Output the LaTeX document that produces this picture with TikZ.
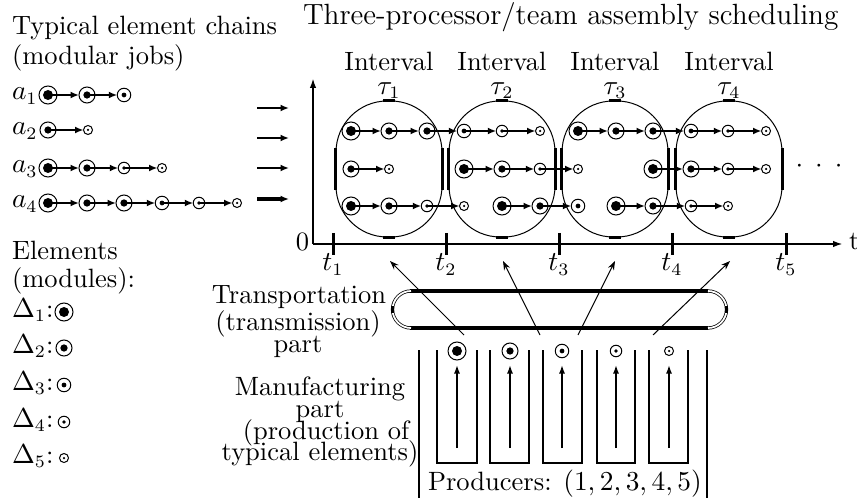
\documentclass[tikz,border=0pt]{standalone}
\usetikzlibrary{arrows.meta}
\begin{document}
\fontsize{10.6pt}{12.7pt}\selectfont
\begin{tikzpicture}[x=0.4pt,y=-0.4pt]
\tikzset{
 el/.style={circle, draw, line width=0.4pt, inner sep=0pt, outer sep=0pt},
 d1/.style={el, minimum size=7.2pt, path picture={\fill (path picture bounding box.center) circle (2pt);}},
 d2/.style={el, minimum size=6.4pt, path picture={\fill (path picture bounding box.center) circle (1.45pt);}},
 d3/.style={el, minimum size=5.4pt, path picture={\fill (path picture bounding box.center) circle (0.95pt);}},
 d4/.style={el, minimum size=4.6pt, path picture={\fill (path picture bounding box.center) circle (0.75pt);}},
 d5/.style={el, minimum size=3.6pt, path picture={\fill (path picture bounding box.center) circle (0.5pt);}},
 chn/.style={line width=0.8pt, -{Latex[length=3.4pt,width=2.8pt]}},
 ivl/.style={draw, line width=0.4pt, rounded corners=20.5pt, minimum width=42.4pt, minimum height=54.4pt, inner sep=0pt},
 bmark/.style={line width=1.2pt},
 axis/.style={line width=0.8pt, -{Latex[length=4pt,width=2.6pt]}},
 feed/.style={line width=0.4pt, -{Stealth[length=3.6pt,width=2.6pt]}},
 prodarr/.style={line width=0.6pt, -{Latex[length=3.4pt,width=2.4pt]}},
 box/.style={line width=0.8pt},
 txt/.style={inner sep=0pt, outer sep=0pt},
}
\useasboundingbox (0,0) rectangle (857,498);

% ---------- top-left titles ----------
\node[txt, anchor=base west] (tt1) at (12,35) {Typical element chains};
\node[txt, anchor=base west] (tt2) at (12,65) {(modular jobs)};
\node[txt, anchor=base west, font=\fontsize{11.7pt}{14pt}\selectfont] (tt3) at (303,25) {Three-processor/team assembly scheduling};

% ---------- left chains ----------
\node[txt, anchor=base west] (la1) at (12,100) {$a_1$};
\node[txt, anchor=base west] (la2) at (12,135) {$a_2$};
\node[txt, anchor=base west] (la3) at (12,173) {$a_3$};
\node[txt, anchor=base west] (la4) at (12,208) {$a_4$};

\node[d1] (c1a) at (48,95) {};
\node[d2] (c1b) at (87,95) {};
\node[d3] (c1c) at (124,95) {};
\draw[chn] (c1a.center) -- (c1b); \draw[chn] (c1b.center) -- (c1c);

\node[d2] (c2a) at (48,130) {};
\node[d5] (c2b) at (88,130) {};
\draw[chn] (c2a.center) -- (c2b);

\node[d1] (c3a) at (48,168) {};
\node[d2] (c3b) at (87,168) {};
\node[d4] (c3c) at (124,168) {};
\node[d5] (c3d) at (162,168) {};
\draw[chn] (c3a.center) -- (c3b); \draw[chn] (c3b.center) -- (c3c); \draw[chn] (c3c.center) -- (c3d);

\node[d1] (c4a) at (48,203) {};
\node[d2] (c4b) at (87,203) {};
\node[d2] (c4c) at (124,203) {};
\node[d3] (c4d) at (162,203) {};
\node[d4] (c4e) at (199,203) {};
\node[d5] (c4f) at (237,203) {};
\draw[chn] (c4a.center) -- (c4b); \draw[chn] (c4b.center) -- (c4c); \draw[chn] (c4c.center) -- (c4d);
\draw[chn] (c4d.center) -- (c4e); \draw[chn] (c4e.center) -- (c4f);

\coordinate (s1) at (257,108); \coordinate (e1) at (289,108);
\coordinate (s2) at (257,138); \coordinate (e2) at (289,138);
\coordinate (s3) at (257,168); \coordinate (e3) at (289,168);
\coordinate (s4) at (257,199); \coordinate (e4) at (289,199);
\draw[chn] (s1) -- (e1); \draw[chn] (s2) -- (e2); \draw[chn] (s3) -- (e3);
\draw[chn, line width=1.3pt] (s4) -- (e4);

% ---------- legend ----------
\node[txt, anchor=base west] (lg1) at (12,260) {Elements};
\node[txt, anchor=base west] (lg2) at (12,287) {(modules):};
\node[txt, anchor=base west] (lD1) at (12,317) {$\Delta_1$:};
\node[txt, anchor=base west] (lD2) at (12,353) {$\Delta_2$:};
\node[txt, anchor=base west] (lD3) at (12,390) {$\Delta_3$:};
\node[txt, anchor=base west] (lD4) at (12,427) {$\Delta_4$:};
\node[txt, anchor=base west] (lD5) at (12,463) {$\Delta_5$:};
\node[d1] (g1) at (64,312) {};
\node[d2] (g2) at (64,348) {};
\node[d3] (g3) at (64,385) {};
\node[d4] (g4) at (64,422) {};
\node[d5] (g5) at (64,458) {};

% ---------- intervals ----------
\foreach \i/\cx in {1/389,2/502,3/615,4/729}{
  \node[ivl] (I\i) at (\cx,169) {};
  \draw[bmark] ([yshift=8.4pt]I\i.west) -- ([yshift=-8.4pt]I\i.west);
  \draw[bmark] ([yshift=8.4pt]I\i.east) -- ([yshift=-8.4pt]I\i.east);
  \draw[bmark] ([xshift=-2.4pt]I\i.north) -- ([xshift=2.4pt]I\i.north);
  \draw[bmark] ([xshift=-2.4pt]I\i.south) -- ([xshift=2.4pt]I\i.south);
  \node[txt, anchor=base] (IL\i) at (\cx,71) {Interval};
  \node[txt, anchor=base] (IT\i) at (\cx,94.5) {$\tau_\i$};
}

% row 1
\node[d1] (r1a) at (351,131) {};
\node[d2] (r1b) at (389,131) {};
\node[d2] (r1c) at (427,131) {};
\node[d3] (r1d) at (464,131) {};
\node[d4] (r1e) at (502,131) {};
\node[d5] (r1f) at (540,131) {};
\node[d1] (r1g) at (578,131) {};
\node[d2] (r1h) at (616,131) {};
\node[d2] (r1i) at (653,131) {};
\node[d3] (r1j) at (691,131) {};
\node[d4] (r1k) at (728,131) {};
\node[d5] (r1l) at (766,131) {};
\draw[chn] (r1a.center) -- (r1b); \draw[chn] (r1b.center) -- (r1c); \draw[chn] (r1c.center) -- (r1d);
\draw[chn] (r1d.center) -- (r1e); \draw[chn] (r1e.center) -- (r1f);
\draw[chn] (r1g.center) -- (r1h); \draw[chn] (r1h.center) -- (r1i); \draw[chn] (r1i.center) -- (r1j);
\draw[chn] (r1j.center) -- (r1k); \draw[chn] (r1k.center) -- (r1l);

% row 2
\node[d2] (r2a) at (351,169) {};
\node[d5] (r2b) at (389,169) {};
\node[d1] (r2d) at (464,169) {};
\node[d2] (r2e) at (502,169) {};
\node[d4] (r2f) at (540,169) {};
\node[d5] (r2g) at (578,169) {};
\node[d1] (r2i) at (653,169) {};
\node[d2] (r2j) at (691,169) {};
\node[d4] (r2k) at (728,169) {};
\node[d5] (r2l) at (766,169) {};
\draw[chn] (r2a.center) -- (r2b);
\draw[chn] (r2d.center) -- (r2e); \draw[chn] (r2e.center) -- (r2f); \draw[chn] (r2f.center) -- (r2g);
\draw[chn] (r2i.center) -- (r2j); \draw[chn] (r2j.center) -- (r2k); \draw[chn] (r2k.center) -- (r2l);

% row 3
\node[d1] (r3a) at (351,206) {};
\node[d2] (r3b) at (389,206) {};
\node[d4] (r3c) at (427,206) {};
\node[d5] (r3d) at (464,206) {};
\node[d1] (r3e) at (502,206) {};
\node[d2] (r3f) at (540,206) {};
\node[d3] (r3g) at (578,206) {};
\node[d1] (r3h) at (616,206) {};
\node[d2] (r3i) at (653,206) {};
\node[d4] (r3j) at (691,206) {};
\node[d5] (r3k) at (728,206) {};
\draw[chn] (r3a.center) -- (r3b); \draw[chn] (r3b.center) -- (r3c); \draw[chn] (r3c.center) -- (r3d);
\draw[chn] (r3e.center) -- (r3f); \draw[chn] (r3f.center) -- (r3g);
\draw[chn] (r3h.center) -- (r3i); \draw[chn] (r3i.center) -- (r3j); \draw[chn] (r3j.center) -- (r3k);

\node[txt, anchor=base] (dots) at (819,173) {${\cdot}\kern4.8pt{\cdot}\kern4.8pt{\cdot}$};

% ---------- axes ----------
\coordinate (O) at (313,244);
\coordinate (ytop) at (313,78);
\coordinate (xend) at (843,244);
\draw[axis] (O) -- (ytop);
\draw[axis] (O) -- (xend);
\node[txt, anchor=base east] (zero) at (309,251) {0};
\node[txt, anchor=base west] (tl) at (849,250) {t};
\foreach \k/\tx in {1/333,2/446,3/559,4/672,5/786}{
  \draw[bmark] (\tx,233) -- (\tx,255);
  \node[txt, anchor=base] (tk\k) at (\tx,271) {$t_\k$};
}

% ---------- transportation ----------
\node[txt, anchor=base] (tr1) at (299,303) {Transportation};
\node[txt, anchor=base] (tr2) at (298,330) {(transmission)};
\node[txt, anchor=base] (tr3) at (298,352) {part};
\draw[line width=1.4pt] (410,291) -- (708,291);
\draw[line width=1.4pt] (410,328) -- (708,328);
\draw[double, line width=0.3pt, double distance=0.7pt] (411,291) arc[start angle=90, end angle=270, radius=7.4pt];
\draw[double, line width=0.3pt, double distance=0.7pt] (708,291) arc[start angle=90, end angle=-90, radius=7.4pt];
\draw[line width=1.2pt] (392.5,306) -- (392.5,313);
\draw[line width=1.2pt] (726.5,306) -- (726.5,313);

% ---------- manufacturing ----------
\node[txt, anchor=base] (mf1) at (320,395) {Manufacturing};
\node[txt, anchor=base] (mf2) at (320,417) {part};
\node[txt, anchor=base] (mf3) at (326,439) {(production of};
\node[txt, anchor=base] (mf4) at (320,460) {typical elements)};
\draw[box] (419,350) -- (419,498);
\draw[box] (707,350) -- (707,498);
\foreach \j/\lx/\rx in {1/437/477,2/490/529,3/543/582,4/597/635,5/649/688}{
  \draw[box] (\lx,350) -- (\lx,463) -- (\rx,463) -- (\rx,350);
}
\node[d1] (p1) at (457,351) {};
\node[d2] (p2) at (510,351) {};
\node[d3] (p3) at (562,351) {};
\node[d4] (p4) at (616,351) {};
\node[d5] (p5) at (669,351) {};
\foreach \j/\px in {1/457,2/510,3/562,4/616,5/669}{
  \coordinate (pb\j) at (\px,448);
  \coordinate (pt\j) at (\px,365);
  \draw[prodarr] (pb\j) -- (pt\j);
}
\node[txt, anchor=base west] (prod) at (428,490) {Producers: $(1,2,3,4,5)$};

% ---------- feed arrows ----------
\coordinate (f1s) at (464,335); \coordinate (f1e) at (390,261);
\coordinate (f2s) at (540,335); \coordinate (f2e) at (503,261);
\coordinate (f3s) at (578,335); \coordinate (f3e) at (615,261);
\coordinate (f4s) at (653,335); \coordinate (f4e) at (730,261);
\draw[feed] (f1s) -- (f1e);
\draw[feed] (f2s) -- (f2e);
\draw[feed] (f3s) -- (f3e);
\draw[feed] (f4s) -- (f4e);
\end{tikzpicture}
\end{document}
